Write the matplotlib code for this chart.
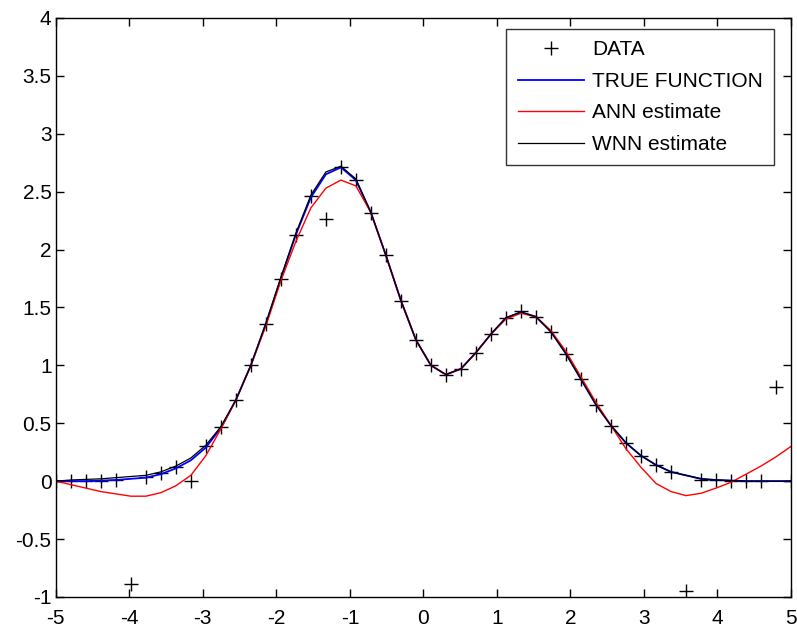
import matplotlib
matplotlib.use("Agg")
import matplotlib.pyplot as plt
import numpy as np

plt.rcParams['font.family'] = ['Liberation Sans', 'DejaVu Sans']

# 50 sample points on [-5, 5]
x = np.linspace(-5, 5, 50)

data_y = [0.00, 0.00, 0.00, 0.00, 0.01, -0.89, 0.04, 0.07, 0.12, 0.00,
          0.30, 0.47, 0.70, 1.00, 1.36, 1.75, 2.13, 2.46, 2.26, 2.71,
          2.60, 2.32, 1.95, 1.56, 1.22, 1.00, 0.92, 0.97, 1.11, 1.27,
          1.41, 1.47, 1.42, 1.29, 1.10, 0.88, 0.66, 0.48, 0.33, 0.22,
          0.14, 0.08, -0.95, 0.01, 0.01, 0.00, 0.00, 0.00, 0.81, 0.00]

true_y = [0.00, 0.00, 0.00, 0.005, 0.01, 0.02, 0.03, 0.06, 0.11, 0.18,
          0.29, 0.46, 0.70, 1.00, 1.36, 1.75, 2.13, 2.45, 2.65, 2.71,
          2.60, 2.32, 1.95, 1.56, 1.22, 1.00, 0.92, 0.97, 1.11, 1.27,
          1.41, 1.46, 1.42, 1.29, 1.10, 0.88, 0.66, 0.48, 0.33, 0.22,
          0.14, 0.08, 0.05, 0.02, 0.01, 0.005, 0.00, 0.00, 0.00, 0.00]

ann_y = [0.00, -0.03, -0.06, -0.09, -0.11, -0.13, -0.13, -0.10, -0.04, 0.05,
         0.22, 0.45, 0.70, 1.00, 1.34, 1.73, 2.07, 2.36, 2.53, 2.60,
         2.55, 2.32, 1.95, 1.56, 1.22, 1.00, 0.92, 0.97, 1.11, 1.27,
         1.40, 1.45, 1.42, 1.30, 1.12, 0.90, 0.68, 0.48, 0.28, 0.12,
         -0.02, -0.09, -0.125, -0.105, -0.06, -0.01, 0.06, 0.13, 0.21, 0.30]

wnn_y = [0.00, 0.01, 0.015, 0.02, 0.03, 0.04, 0.05, 0.08, 0.13, 0.20,
         0.31, 0.47, 0.70, 1.00, 1.36, 1.76, 2.14, 2.47, 2.67, 2.72,
         2.61, 2.32, 1.95, 1.56, 1.22, 1.00, 0.92, 0.97, 1.11, 1.27,
         1.41, 1.46, 1.42, 1.29, 1.10, 0.88, 0.66, 0.48, 0.33, 0.22,
         0.14, 0.08, 0.05, 0.02, 0.01, 0.005, 0.00, 0.00, 0.00, 0.00]

x_ticks = [-5, -4, -3, -2, -1, 0, 1, 2, 3, 4, 5]
y_ticks = [-1, -0.5, 0, 0.5, 1, 1.5, 2, 2.5, 3, 3.5, 4]
x_labels = ['-5', '-4', '-3', '-2', '-1', '0', '1', '2', '3', '4', '5']
y_labels = ['-1', '-0.5', '0', '0.5', '1', '1.5', '2', '2.5', '3', '3.5', '4']

fig = plt.figure(figsize=(7.97, 6.31), dpi=100)
ax = fig.add_axes([0.070, 0.054, 0.9225, 0.9175])

ax.plot(x, data_y, 'k+', markersize=10, markeredgewidth=1.0, label='DATA')
ax.plot(x, true_y, color='b', lw=1.3, label='TRUE FUNCTION')
ax.plot(x, ann_y, color='r', lw=1.0, label='ANN estimate')
ax.plot(x, wnn_y, color='k', lw=0.9, label='WNN estimate')

ax.set_xlim(-5, 5)
ax.set_ylim(-1, 4)
ax.set_xticks(x_ticks)
ax.set_xticklabels(x_labels)
ax.set_yticks(y_ticks)
ax.set_yticklabels(y_labels)
ax.tick_params(direction='in', length=6, width=1, labelsize=15,
               top=True, right=True, colors='black')
ax.tick_params(axis='x', pad=9)
ax.tick_params(axis='y', pad=3)
for sp in ax.spines.values():
    sp.set_linewidth(1.0)

leg = ax.legend(loc='upper right', bbox_to_anchor=(0.977, 0.981),
                borderaxespad=0, fontsize=15, frameon=True, fancybox=False,
                edgecolor='black', handlelength=3.2, handletextpad=0.35,
                labelspacing=0.6, borderpad=0.55)
leg.get_frame().set_linewidth(1.0)

fig.savefig('out.png', dpi=100)
plt.close(fig)
